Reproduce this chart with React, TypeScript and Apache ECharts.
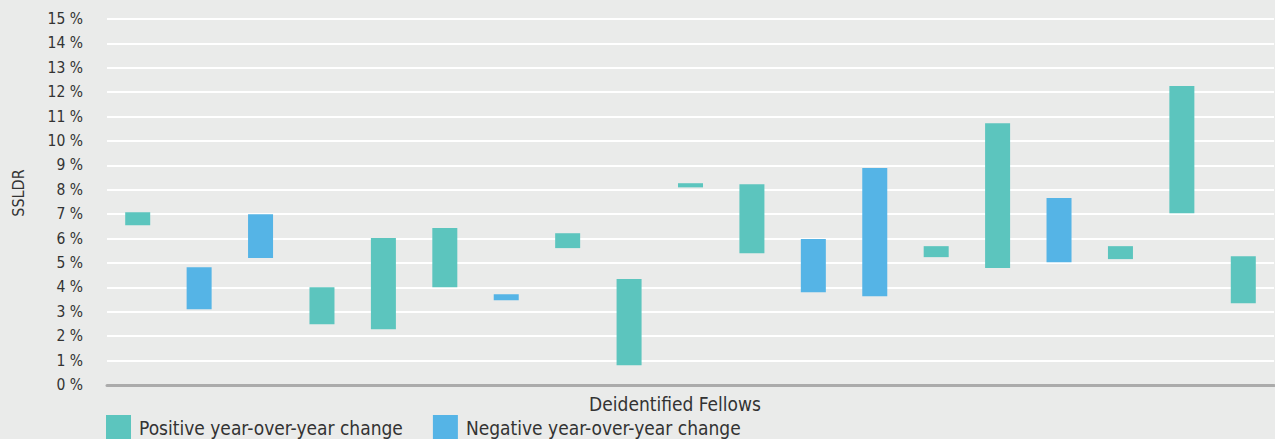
import React, { useEffect, useRef } from "react";
import * as echarts from "echarts";

const fellows = [
  "F1", "F2", "F3", "F4", "F5", "F6", "F7", "F8", "F9", "F10",
  "F11", "F12", "F13", "F14", "F15", "F16", "F17", "F18", "F19",
];
const priorYear = [
  6.55, 4.83, 7.0, 2.49, 2.28, 4.01, 3.72, 5.61, 0.81, 8.1,
  5.4, 5.98, 8.89, 5.24, 4.79, 7.66, 5.16, 7.04, 3.35,
];
const currentYear = [
  7.08, 3.1, 5.21, 4.01, 6.02, 6.43, 3.47, 6.22, 4.34, 8.27,
  8.23, 3.8, 3.64, 5.69, 10.73, 5.03, 5.69, 12.25, 5.28,
];
const yTicks = [0, 15, 1];

const GREEN = "#5CC5BE";
const BLUE = "#55B4E6";
const FONT = "'DejaVu Sans Condensed', 'DejaVu Sans', sans-serif";

export default function App() {
  const ref = useRef<HTMLDivElement>(null);
  useEffect(() => {
    if (!ref.current) return;
    const chart = echarts.init(ref.current, undefined, { renderer: "svg" });
    const base = priorYear.map((p, i) => Math.min(p, currentYear[i]));
    const pos = priorYear.map((p, i) => (currentYear[i] >= p ? +(currentYear[i] - p).toFixed(2) : 0));
    const neg = priorYear.map((p, i) => (currentYear[i] < p ? +(p - currentYear[i]).toFixed(2) : 0));
    chart.setOption({
      animation: false,
      backgroundColor: "#EAEBEA",
      textStyle: { fontFamily: FONT },
      grid: { left: 107, right: 1, top: 19, bottom: 54, containLabel: false },
      legend: {
        left: 106,
        top: 415,
        padding: 0,
        itemWidth: 25,
        itemHeight: 25,
        itemGap: 30,
        icon: "rect",
        data: ["Positive year-over-year change", "Negative year-over-year change"],
        textStyle: { fontFamily: FONT, fontSize: 19, color: "#333333", padding: [0, 0, 0, 3] },
      },
      xAxis: {
        type: "category",
        data: fellows,
        axisLine: { show: true, lineStyle: { color: "#ABABAB", width: 3 } },
        axisTick: { show: false },
        axisLabel: { show: false },
        splitLine: { show: false },
      },
      yAxis: {
        type: "value",
        min: yTicks[0],
        max: yTicks[1],
        interval: yTicks[2],
        axisLine: { show: false },
        axisTick: { show: false },
        axisLabel: {
          formatter: "{value} %",
          fontFamily: FONT,
          fontSize: 15.5,
          color: "#333333",
          margin: 24,
        },
        splitLine: { show: true, lineStyle: { color: "#FFFFFF", width: 2 } },
      },
      graphic: [
        {
          type: "text",
          x: 18,
          y: 193,
          rotation: Math.PI / 2,
          style: {
            text: "SSLDR",
            fontFamily: FONT,
            fontSize: 16,
            fill: "#333333",
            align: "center",
            verticalAlign: "middle",
          },
        },
        {
          type: "text",
          x: 675,
          y: 404,
          style: {
            text: "Deidentified Fellows",
            fontFamily: FONT,
            fontSize: 19,
            fill: "#333333",
            align: "center",
            verticalAlign: "middle",
          },
        },
      ],
      series: [
        {
          name: "base",
          type: "bar",
          stack: "range",
          data: base,
          barWidth: 25,
          itemStyle: { color: "transparent" },
          silent: true,
        },
        {
          name: "Positive year-over-year change",
          type: "bar",
          stack: "range",
          data: pos,
          barWidth: 25,
          itemStyle: { color: GREEN },
        },
        {
          name: "Negative year-over-year change",
          type: "bar",
          stack: "range",
          data: neg,
          barWidth: 25,
          itemStyle: { color: BLUE },
        },
      ],
    });
    return () => chart.dispose();
  }, []);
  return (
    <div
      ref={ref}
      style={{ position: "fixed", left: 0, top: 0, width: 1275, height: 439 }}
    />
  );
}
